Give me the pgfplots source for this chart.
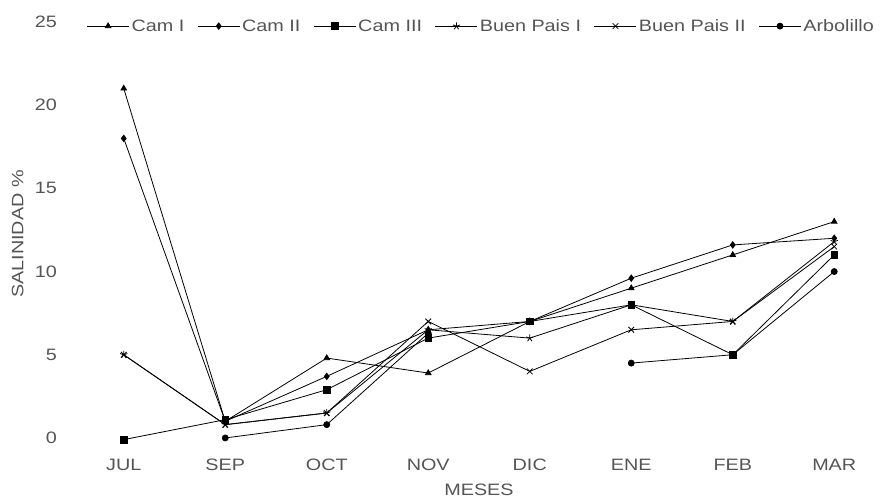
\documentclass[border=0pt]{standalone}
\usepackage{pgfplots}
\pgfplotsset{compat=1.18}
\usepackage{fontspec}
\setmainfont{Liberation Sans}[FakeStretch=1.2]
\definecolor{txt}{RGB}{85,85,85}
\newcommand{\cf}{\fontsize{16.5bp}{19bp}\selectfont}
\begin{document}
\begin{tikzpicture}
\path[use as bounding box] (0,0) rectangle (891bp,498bp);
\begin{axis}[
  at={(73bp,43.4bp)}, anchor=south west,
  scale only axis, width=812bp, height=441bp,
  xmin=-0.5, xmax=7.5, ymin=-1, ymax=25.5,
  axis line style={draw=none},
  tick style={draw=none},
  xtick={0,1,2,3,4,5,6,7},
  xticklabels={JUL,SEP,OCT,NOV,DIC,ENE,FEB,MAR},
  ytick={0,5,10,15,20,25},
  yticklabels={0,5,10,15,20,25},
  tick label style={font=\cf, text=txt},
  yticklabel style={anchor=east, text width=26bp, align=right, inner sep=0pt, xshift=-16bp},
  xticklabel style={yshift=-1bp},
  xlabel={MESES}, ylabel={SALINIDAD \%},
  label style={font=\cf, text=txt},
  xlabel style={at={(axis description cs:0.5,-0.080)}, anchor=center},
  ylabel style={at={(axis description cs:-0.068,0.5)}, anchor=center},
  unbounded coords=jump,
  clip=false,
  every axis plot/.append style={black, line width=0.8bp, mark options={solid, fill=black}},
  legend columns=-1,
  legend style={at={(0.013,0.9716)}, anchor=west, draw=none, fill=none, font=\cf, text=txt,
    /tikz/every even column/.append style={column sep=11bp}},
  legend image code/.code={\draw[mark repeat=2,mark phase=2] plot coordinates {(0bp,0bp) (21bp,0bp) (42bp,0bp)};},
]
\addplot[mark=triangle*, mark size=3.2bp] coordinates {(0,21) (1,1) (2,4.8) (3,3.9) (4,7) (5,9) (6,11) (7,13)};
\addlegendentry{Cam I}
\addplot[mark=diamond*, mark size=3.2bp] coordinates {(0,18) (1,1) (2,3.7) (3,6.5) (4,7) (5,9.6) (6,11.6) (7,12)};
\addlegendentry{Cam II}
\addplot[mark=square*, mark size=3.3bp] coordinates {(0,-0.1) (1,1.1) (2,2.9) (3,6) (4,7) (5,8) (6,5) (7,11)};
\addlegendentry{Cam III}
\addplot[mark=star, mark size=3.8bp] coordinates {(0,5) (1,0.8) (2,1.5) (3,6.5) (4,6) (5,8) (6,7) (7,11.8)};
\addlegendentry{Buen Pais I}
\addplot[mark=x, mark size=4bp] coordinates {(0,5) (1,0.8) (2,1.5) (3,7) (4,4) (5,6.5) (6,7) (7,11.5)};
\addlegendentry{Buen Pais II}
\addplot[mark=*, mark size=3bp] coordinates {(1,0) (2,0.8) (3,6.3) (4,nan) (5,4.5) (6,5) (7,10)};
\addlegendentry{Arbolillo}
\end{axis}
\end{tikzpicture}
\end{document}
